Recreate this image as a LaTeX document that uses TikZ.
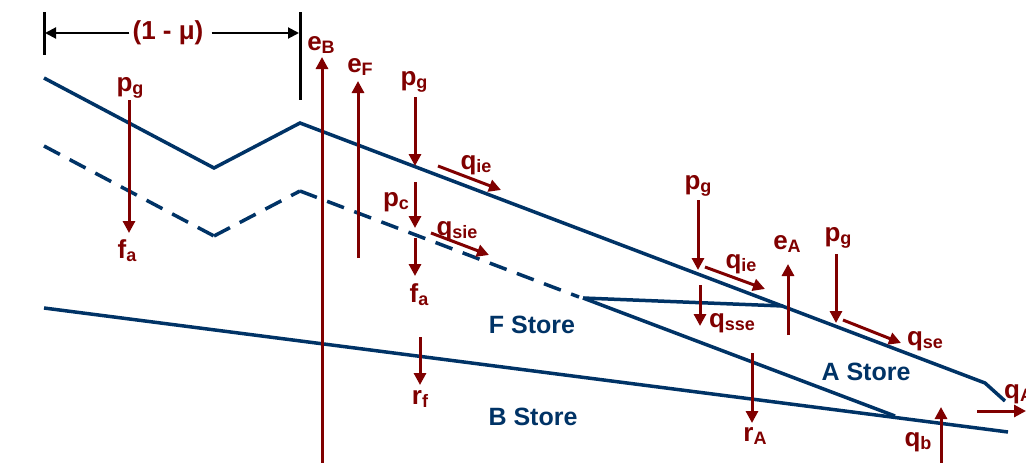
\documentclass[tikz,border=0pt]{standalone}
\usepackage{fontspec}
\setmainfont{Liberation Sans}
\usetikzlibrary{arrows.meta}
\definecolor{navy}{RGB}{0,51,102}
\definecolor{dred}{RGB}{128,0,0}
\newcommand{\lbl}[2]{{\fontsize{26}{26}\selectfont\bfseries #1\raisebox{-3pt}{\fontsize{18}{18}\selectfont #2}}}
\begin{document}
\begin{tikzpicture}[x=1pt,y=-1pt,
  boundary/.style={draw=navy,line width=3.5pt},
  dashedboundary/.style={boundary,dash pattern=on 18pt off 11pt},
  flow/.style={draw=dred,line width=3pt,-{Triangle[length=12pt,width=12pt]}},
  dimline/.style={draw=black,line width=2pt,-{Triangle[length=11pt,width=11pt]}},
  tick/.style={draw=black,line width=3pt},
  lab/.style={text=dred,inner sep=0pt},
  storelab/.style={text=navy,inner sep=0pt,font=\fontsize{25}{25}\selectfont\bfseries}]
\useasboundingbox (0,0) rectangle (1026,463);
\fill[white] (0,0) rectangle (1026,463);

% dimension (1 - mu)
\coordinate (tL1) at (44,12); \coordinate (tL2) at (44,55);
\coordinate (tR1) at (300,12); \coordinate (tR2) at (300,100);
\draw[tick] (tL1) -- (tL2);
\draw[tick] (tR1) -- (tR2);
\node[lab,font=\fontsize{26}{26}\selectfont\bfseries] (dim) at (168,33) {(1 - μ)};
\coordinate (dL) at (45,33); \coordinate (dR) at (299,33);
\draw[dimline] ([xshift=-3pt]dim.west) -- (dL);
\draw[dimline] ([xshift=8pt]dim.east) -- (dR);

% boundaries
\coordinate (s1) at (44,78); \coordinate (s2) at (214,168); \coordinate (s3) at (300,123);
\coordinate (s4) at (985,383); \coordinate (s5) at (1005,401);
\draw[boundary] (s1) -- (s2) -- (s3) -- (s4) -- (s5);
\coordinate (d1) at (44,146); \coordinate (d2) at (214,236); \coordinate (d3) at (300,191);
\coordinate (d4) at (579,297);
\draw[dashedboundary] (d1) -- (d2);
\draw[dashedboundary] (d2) -- (d3);
\draw[dashedboundary] (d3) -- (d4);
\coordinate (a0) at (583,298); \coordinate (a1) at (783,306); \coordinate (a2) at (895,416);
\draw[boundary] (a0) -- (a1);
\draw[boundary] (a0) -- (a2);
\coordinate (b1) at (44,308); \coordinate (b2) at (1008,432);
\draw[boundary] (b1) -- (b2);

% store labels
\node[storelab] (fstore) at (532,325) {F Store};
\node[storelab] (bstore) at (533,417) {B Store};
\node[storelab] (astore) at (866,372) {A Store};

% flows
\coordinate (f1a) at (129,100); \coordinate (f1b) at (129,233);
\draw[flow] (f1a) -- (f1b);
\node[lab] (pg1) at (130,88) {\lbl{p}{g}};
\node[lab] (fa1) at (127,251) {\lbl{f}{a}};

\coordinate (eBa) at (322,463); \coordinate (eBb) at (322,57);
\draw[flow] (eBa) -- (eBb);
\node[lab] (eB) at (321,45) {\lbl{e}{B}};

\coordinate (eFa) at (358,258); \coordinate (eFb) at (358,81);
\draw[flow] (eFa) -- (eFb);
\node[lab] (eF) at (360,67) {\lbl{e}{F}};

\coordinate (pg2a) at (415,97); \coordinate (pg2b) at (415,166);
\draw[flow] (pg2a) -- (pg2b);
\node[lab] (pg2) at (414,82) {\lbl{p}{g}};

\coordinate (pca) at (415,182); \coordinate (pcb) at (415,228);
\draw[flow] (pca) -- (pcb);
\node[lab] (pc) at (396,202) {\lbl{p}{c}};

\coordinate (fa2a) at (415,238); \coordinate (fa2b) at (415,276);
\draw[flow] (fa2a) -- (fa2b);
\node[lab] (fa2) at (419,295) {\lbl{f}{a}};

\coordinate (qie1a) at (438,166); \coordinate (qie1b) at (501,190);
\draw[flow] (qie1a) -- (qie1b);
\node[lab] (qie1) at (476,165) {\lbl{q}{ie}};

\coordinate (qsiea) at (431,233); \coordinate (qsieb) at (489,255);
\draw[flow] (qsiea) -- (qsieb);
\node[lab] (qsie) at (457,231) {\lbl{q}{sie}};

\coordinate (rfa) at (420,337); \coordinate (rfb) at (420,385);
\draw[flow] (rfa) -- (rfb);
\node[lab] (rf) at (420,399) {\lbl{r}{f}};

\coordinate (pg3a) at (698,200); \coordinate (pg3b) at (698,270);
\draw[flow] (pg3a) -- (pg3b);
\node[lab] (pg3) at (698,186) {\lbl{p}{g}};

\coordinate (qie2a) at (705,267); \coordinate (qie2b) at (765,289);
\draw[flow] (qie2a) -- (qie2b);
\node[lab] (qie2) at (741,264) {\lbl{q}{ie}};

\coordinate (qssea) at (700,285); \coordinate (qsseb) at (700,326);
\draw[flow] (qssea) -- (qsseb);
\node[lab] (qsse) at (732,323) {\lbl{q}{sse}};

\coordinate (eAa) at (788,335); \coordinate (eAb) at (788,264);
\draw[flow] (eAa) -- (eAb);
\node[lab] (eA) at (787,244) {\lbl{e}{A}};

\coordinate (pg4a) at (836,254); \coordinate (pg4b) at (836,323);
\draw[flow] (pg4a) -- (pg4b);
\node[lab] (pg4) at (838,238) {\lbl{p}{g}};

\coordinate (qsea) at (843,320); \coordinate (qseb) at (901,343);
\draw[flow] (qsea) -- (qseb);
\node[lab] (qse) at (925,341) {\lbl{q}{se}};

\coordinate (rAa) at (752,353); \coordinate (rAb) at (752,423);
\draw[flow] (rAa) -- (rAb);
\node[lab] (rA) at (755,436) {\lbl{r}{A}};

\coordinate (qba) at (941,463); \coordinate (qbb) at (941,407);
\draw[flow] (qba) -- (qbb);
\node[lab] (qb) at (918,442) {\lbl{q}{b}};

\coordinate (qAa) at (977,411); \coordinate (qAb) at (1026,411);
\draw[flow] (qAa) -- (qAb);
\node[lab,anchor=west] (qA) at (1004,394) {\lbl{q}{A}};
\end{tikzpicture}
\end{document}
